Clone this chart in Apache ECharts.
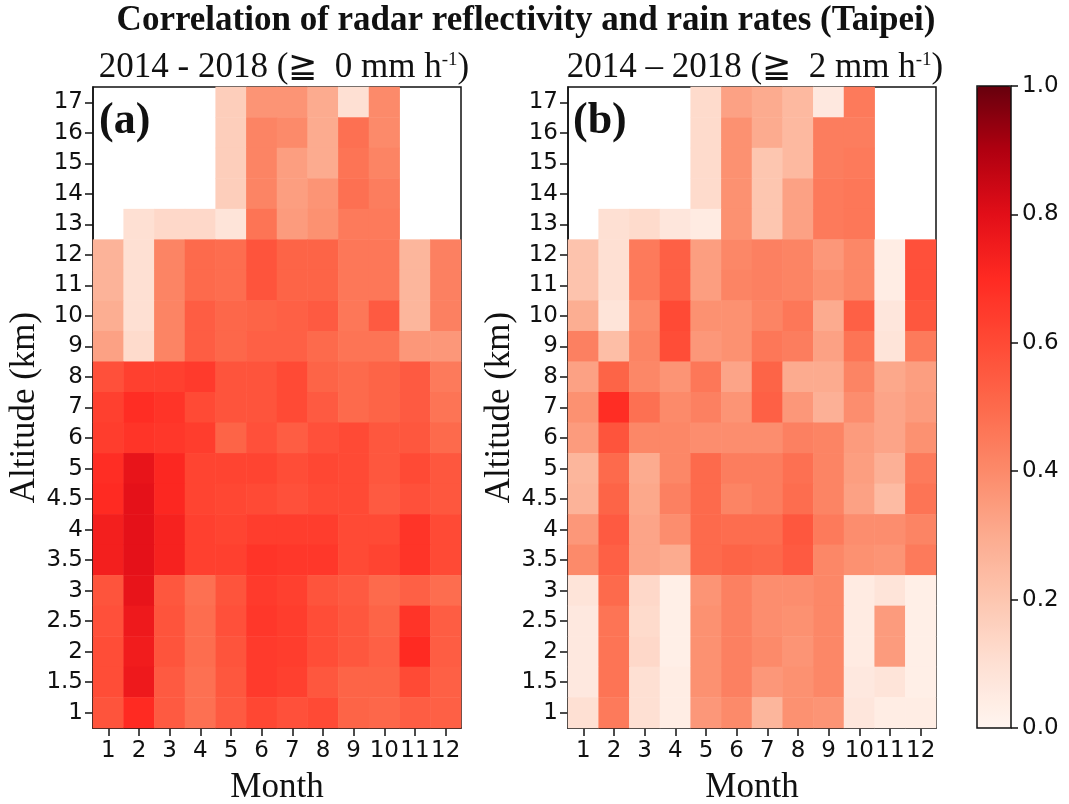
<!DOCTYPE html>
<html><head><meta charset="utf-8">
<script src="https://cdn.jsdelivr.net/npm/echarts@6/dist/echarts.min.js"></script>
<style>html,body{margin:0;padding:0;background:#fff}#c{width:1069px;height:804px}</style>
</head><body><div id="c"></div>
<script>
// ---- data ----
const months = ['1','2','3','4','5','6','7','8','9','10','11','12'];
const altitudes = ['1','1.5','2','2.5','3','3.5','4','4.5','5','6','7','8','9','10','11','12','13','14','15','16','17'];
const colorbarTicks = [0, 0.2, 0.4, 0.6, 0.8, 1.0];
// rows listed from altitude 17 (top) down to 1 (bottom); null = no data
const corrA = [
  [null,null,null,null,0.17,0.37,0.37,0.30,0.10,0.40,null,null],
  [null,null,null,null,0.17,0.42,0.40,0.30,0.48,0.40,null,null],
  [null,null,null,null,0.17,0.42,0.34,0.30,0.47,0.42,null,null],
  [null,null,null,null,0.17,0.42,0.34,0.37,0.48,0.44,null,null],
  [null,0.10,0.13,0.13,0.08,0.47,0.35,0.38,0.45,0.45,null,null],
  [0.27,0.10,0.42,0.50,0.49,0.57,0.52,0.52,0.46,0.46,0.26,0.43],
  [0.27,0.10,0.42,0.50,0.49,0.57,0.52,0.52,0.46,0.46,0.26,0.43],
  [0.29,0.10,0.42,0.54,0.51,0.52,0.53,0.55,0.46,0.55,0.26,0.43],
  [0.33,0.12,0.42,0.54,0.51,0.53,0.53,0.50,0.47,0.47,0.36,0.36],
  [0.58,0.63,0.63,0.65,0.57,0.57,0.60,0.52,0.50,0.52,0.55,0.45],
  [0.63,0.69,0.67,0.60,0.57,0.57,0.60,0.55,0.50,0.52,0.55,0.47],
  [0.64,0.67,0.66,0.64,0.52,0.58,0.54,0.58,0.60,0.56,0.56,0.50],
  [0.69,0.78,0.71,0.62,0.62,0.62,0.59,0.61,0.60,0.56,0.60,0.56],
  [0.70,0.79,0.71,0.62,0.61,0.60,0.58,0.60,0.60,0.55,0.58,0.56],
  [0.74,0.79,0.73,0.63,0.62,0.64,0.64,0.64,0.60,0.60,0.67,0.60],
  [0.74,0.79,0.73,0.63,0.63,0.67,0.66,0.66,0.60,0.62,0.67,0.60],
  [0.57,0.78,0.56,0.48,0.57,0.65,0.63,0.57,0.55,0.50,0.53,0.49],
  [0.58,0.76,0.57,0.49,0.58,0.66,0.64,0.59,0.56,0.52,0.67,0.54],
  [0.59,0.75,0.57,0.49,0.57,0.65,0.64,0.59,0.56,0.53,0.70,0.54],
  [0.59,0.76,0.55,0.48,0.56,0.65,0.63,0.56,0.52,0.52,0.60,0.53],
  [0.57,0.70,0.55,0.48,0.55,0.61,0.58,0.60,0.52,0.51,0.54,0.53]
];
const corrB = [
  [null,null,null,null,0.12,0.33,0.30,0.25,0.06,0.45,null,null],
  [null,null,null,null,0.12,0.38,0.30,0.25,0.44,0.44,null,null],
  [null,null,null,null,0.12,0.38,0.20,0.25,0.44,0.45,null,null],
  [null,null,null,null,0.12,0.38,0.20,0.33,0.45,0.46,null,null],
  [null,0.10,0.12,0.07,0.05,0.38,0.20,0.33,0.45,0.46,null,null],
  [0.21,0.10,0.45,0.53,0.34,0.41,0.43,0.42,0.36,0.41,0.04,0.58],
  [0.21,0.10,0.45,0.53,0.34,0.42,0.43,0.42,0.38,0.41,0.04,0.58],
  [0.29,0.08,0.40,0.60,0.38,0.38,0.42,0.46,0.30,0.53,0.07,0.56],
  [0.43,0.23,0.42,0.59,0.36,0.38,0.46,0.44,0.33,0.47,0.08,0.45],
  [0.33,0.52,0.41,0.37,0.46,0.32,0.52,0.30,0.30,0.42,0.31,0.34],
  [0.38,0.69,0.48,0.40,0.43,0.37,0.53,0.36,0.28,0.39,0.32,0.35],
  [0.35,0.57,0.41,0.41,0.39,0.39,0.39,0.43,0.42,0.35,0.32,0.38],
  [0.26,0.50,0.30,0.41,0.50,0.44,0.44,0.48,0.42,0.34,0.28,0.45],
  [0.27,0.52,0.31,0.43,0.50,0.42,0.44,0.49,0.42,0.33,0.24,0.47],
  [0.36,0.55,0.32,0.39,0.50,0.49,0.49,0.56,0.45,0.39,0.39,0.42],
  [0.40,0.53,0.32,0.30,0.50,0.52,0.51,0.55,0.41,0.38,0.37,0.45],
  [0.08,0.50,0.13,0.03,0.37,0.43,0.39,0.39,0.41,0.05,0.08,0.03],
  [0.06,0.47,0.12,0.03,0.38,0.43,0.39,0.38,0.41,0.05,0.35,0.03],
  [0.06,0.47,0.13,0.03,0.38,0.43,0.40,0.37,0.41,0.05,0.35,0.03],
  [0.06,0.47,0.10,0.04,0.38,0.43,0.36,0.38,0.41,0.06,0.08,0.03],
  [0.10,0.45,0.10,0.04,0.36,0.40,0.26,0.38,0.37,0.07,0.04,0.04]
];
const reds = ['#fff5f0','#fee0d3','#fdc6b0','#fcab8f','#fc8a6a','#fd6a4c','#ff4a35','#ff2a22','#e20e18','#b00010','#67000d'];

function toHeat(rows) {
  const out = [];
  const n = rows.length;
  rows.forEach((row, r) => {
    row.forEach((v, m) => {
      if (v !== null) out.push([m, n - 1 - r, v]);
    });
  });
  return out;
}

const serif = '"Liberation Serif","Times New Roman",serif';
const sans = '"DejaVu Sans",sans-serif';
const frame = '#111';

function xAx(gi) {
  return {
    type: 'category', gridIndex: gi, data: months,
    name: 'Month', nameLocation: 'middle', nameGap: 42,
    nameTextStyle: {fontFamily: serif, fontSize: 35, color: '#111'},
    axisLine: {show: true, lineStyle: {color: frame, width: 1.5}},
    axisTick: {show: true, alignWithLabel: true, length: 8, lineStyle: {color: frame, width: 1.5}},
    axisLabel: {fontFamily: sans, fontSize: 23, color: '#111', margin: 12, interval: 0},
    splitLine: {show: false}
  };
}
function yAx(gi) {
  return {
    type: 'category', gridIndex: gi, data: altitudes,
    name: 'Altitude (km)', nameLocation: 'middle', nameGap: 50, nameRotate: 90,
    nameTextStyle: {fontFamily: serif, fontSize: 35, color: '#111'},
    axisLine: {show: true, lineStyle: {color: frame, width: 1.5}},
    axisTick: {show: true, alignWithLabel: true, length: 8, lineStyle: {color: frame, width: 1.5}},
    axisLabel: {fontFamily: sans, fontSize: 23, color: '#111', margin: 10, interval: 0},
    splitLine: {show: false}
  };
}

const chart = echarts.init(document.getElementById('c'), null, {renderer: 'canvas'});
const gridBase = {show: true, borderColor: frame, borderWidth: 1.5, backgroundColor: 'transparent', containLabel: false, outerBoundsMode: 'none'};
const option = {
  backgroundColor: '#fff',
  animation: false,
  grid: [
    Object.assign({left: 93, top: 87, width: 368, height: 641}, gridBase),
    Object.assign({left: 568, top: 87, width: 368, height: 641}, gridBase),
    Object.assign({left: 977, top: 86, width: 34, height: 642, z: 10}, gridBase)
  ],
  xAxis: [xAx(0), xAx(1),
    {type: 'category', gridIndex: 2, data: [''], show: false}
  ],
  yAxis: [yAx(0), yAx(1),
    {type: 'value', gridIndex: 2, position: 'right', min: 0, max: 1, interval: 0.2,
     axisLine: {show: false}, splitLine: {show: false},
     axisTick: {show: true, length: 7, lineStyle: {color: frame, width: 1.5}},
     axisLabel: {fontFamily: sans, fontSize: 23, color: '#111', margin: 11,
       formatter: v => colorbarTicks.some(t => Math.abs(t - v) < 1e-6) ? v.toFixed(1) : ''}}
  ],
  visualMap: {
    type: 'continuous', min: 0, max: 1, seriesIndex: [0, 1],
    orient: 'vertical', left: 977, top: 86, itemWidth: 34, itemHeight: 642,
    padding: 0, calculable: false, hoverLink: false, text: null, showLabel: false,
    inRange: {color: reds}
  },
  series: [
    {type: 'heatmap', xAxisIndex: 0, yAxisIndex: 0, data: toHeat(corrA), emphasis: {disabled: true}, progressive: 0},
    {type: 'heatmap', xAxisIndex: 1, yAxisIndex: 1, data: toHeat(corrB), emphasis: {disabled: true}, progressive: 0}
  ],
  graphic: [
    {type: 'text', x: 526, y: 21, style: {text: 'Correlation of radar reflectivity and rain rates (Taipei)',
      font: 'bold 35px ' + serif, fill: '#111', align: 'center', verticalAlign: 'middle', textAlign: 'center', textVerticalAlign: 'middle'}},
    {type: 'text', x: 284, y: 68, style: {text: '2014 - 2018 (≧  0 mm h{sup|-1})',
      font: '35px ' + serif, fill: '#111', align: 'center', verticalAlign: 'middle', textAlign: 'center', textVerticalAlign: 'middle',
      rich: {sup: {fontSize: 19, fontFamily: serif, fill: '#111', verticalAlign: 'top', padding: [0, 0, 14, 0]}}}},
    {type: 'text', x: 755, y: 68, style: {text: '2014 – 2018 (≧  2 mm h{sup|-1})',
      font: '35px ' + serif, fill: '#111', align: 'center', verticalAlign: 'middle', textAlign: 'center', textVerticalAlign: 'middle',
      rich: {sup: {fontSize: 19, fontFamily: serif, fill: '#111', verticalAlign: 'top', padding: [0, 0, 14, 0]}}}},
    {type: 'text', x: 99, y: 122, z: 100, style: {text: '(a)', font: 'bold 44px ' + serif, fill: '#111', align: 'left', verticalAlign: 'middle', textAlign: 'left', textVerticalAlign: 'middle'}},
    {type: 'text', x: 573, y: 122, z: 100, style: {text: '(b)', font: 'bold 44px ' + serif, fill: '#111', align: 'left', verticalAlign: 'middle', textAlign: 'left', textVerticalAlign: 'middle'}}
  ]
};
chart.setOption(option);
</script>
</body></html>
